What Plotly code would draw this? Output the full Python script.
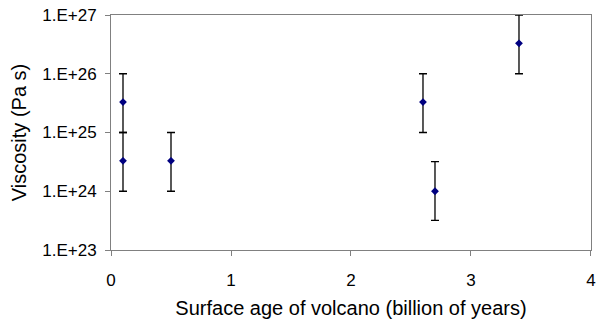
import plotly.graph_objects as go

ages = [0.1, 0.1, 0.5, 2.6, 2.7, 3.4]
viscosity = [3.3e25, 3.3e24, 3.3e24, 3.3e25, 1.0e24, 3.3e26]
visc_high = [1e26, 1e25, 1e25, 1e26, 3.2e24, 1e27]
visc_low = [1e25, 1e24, 1e24, 1e25, 3.2e23, 1e26]
y_tickvals = [1e23, 1e24, 1e25, 1e26, 1e27]
y_ticktext = ["1.E+23", "1.E+24", "1.E+25", "1.E+26", "1.E+27"]
x_tickvals = [0, 1, 2, 3, 4]

err_plus = [h - v for h, v in zip(visc_high, viscosity)]
err_minus = [v - l for v, l in zip(viscosity, visc_low)]

fig = go.Figure(go.Scatter(
    x=ages, y=viscosity, mode="markers",
    marker=dict(symbol="diamond", size=6, color="#000080"),
    error_y=dict(type="data", symmetric=False, array=err_plus, arrayminus=err_minus,
                 color="black", thickness=1.3, width=4),
    showlegend=False,
    cliponaxis=False,
))

font = dict(family="Liberation Sans, Arial, sans-serif", size=17, color="black")
fig.update_layout(
    width=599, height=320,
    margin=dict(l=111, r=8, t=15, b=70),
    paper_bgcolor="white", plot_bgcolor="white",
    font=font,
    xaxis=dict(range=[0, 4.0001], tickvals=x_tickvals, showgrid=False, zeroline=False,
               showline=True, linecolor="#808080", linewidth=1, mirror=True,
               ticks="outside", ticklen=5, tickcolor="#808080", automargin=False,
               ticklabeloverflow="allow", ticklabelstandoff=10,
               title=dict(text="Surface age of volcano (billion of years)", standoff=11)),
    yaxis=dict(type="log", range=[23, 27.0001], tickvals=y_tickvals, ticktext=y_ticktext,
               showgrid=False, zeroline=False,
               showline=True, linecolor="#808080", linewidth=1, mirror=True,
               ticks="outside", ticklen=5, tickcolor="#808080", automargin=False,
               ticklabeloverflow="allow", ticklabelstandoff=5,
               title=dict(text="Viscosity (Pa s)", standoff=10)),
)

fig.write_html("out.html", config={"displayModeBar": False},
               post_script="document.body.style.margin='0';document.body.style.overflow='hidden';")
